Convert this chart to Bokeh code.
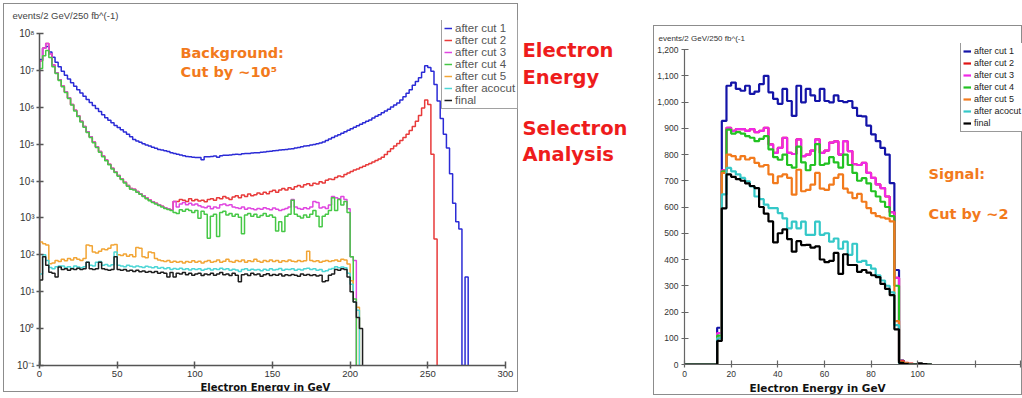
import numpy as np
from bokeh.plotting import figure
from bokeh.models import (Label, Legend, LegendItem, FixedTicker, NumeralTickFormatter,
                          Range1d, Spacer, Title)
from bokeh.layouts import row, column
from bokeh.embed import file_html
from bokeh.resources import INLINE

# ---------------------------------------------------------------- data
series_names = ["after cut 1", "after cut 2", "after cut 3", "after cut 4",
                "after cut 5", "after acocut", "final"]

# Background: electron energy, 2 GeV bins from 0 GeV, log10(events); None = empty bin
bg_bin_width = 2.0
bg_cut1_log10 = [
    7.30, 7.60, 7.65, 7.50, 7.36, 7.22, 7.10, 6.98, 6.87, 6.77,
    6.67, 6.57, 6.48, 6.39, 6.30, 6.21, 6.13, 6.05, 5.97, 5.89,
    5.80, 5.72, 5.65, 5.58, 5.51, 5.45, 5.39, 5.33, 5.27, 5.20,
    5.13, 5.09, 5.05, 5.01, 4.98, 4.95, 4.92, 4.89, 4.86, 4.84,
    4.82, 4.80, 4.77, 4.75, 4.73, 4.71, 4.69, 4.67, 4.66, 4.65,
    4.64, 4.64, 4.58, 4.66, 4.66, 4.67, 4.68, 4.65, 4.69, 4.70,
    4.70, 4.71, 4.72, 4.73, 4.72, 4.74, 4.75, 4.75, 4.76, 4.77,
    4.77, 4.78, 4.79, 4.80, 4.81, 4.82, 4.83, 4.84, 4.85, 4.86,
    4.87, 4.88, 4.90, 4.91, 4.93, 4.95, 4.96, 4.98, 4.99, 5.01,
    5.03, 5.06, 5.10, 5.14, 5.18, 5.22, 5.26, 5.30, 5.34, 5.38,
    5.42, 5.46, 5.50, 5.54, 5.58, 5.62, 5.66, 5.71, 5.76, 5.80,
    5.85, 5.90, 5.95, 6.01, 6.06, 6.12, 6.20, 6.29, 6.38, 6.48,
    6.60, 6.70, 6.80, 6.95, 7.13, 7.08, 6.98, 6.62, 6.17, 5.70,
    5.27, 4.90, 4.20, 3.40, 2.90, 2.70, None, 1.40]
bg_cut2_log10 = [
    7.26, 7.60, 7.73, 7.45, 7.15, 6.94, 6.75, 6.58, 6.42, 6.26,
    6.08, 5.92, 5.77, 5.62, 5.48, 5.34, 5.20, 5.06, 4.93, 4.80,
    4.68, 4.57, 4.46, 4.35, 4.25, 4.15, 4.06, 3.97, 3.88, 3.80,
    3.78, 3.72, 3.66, 3.60, 3.54, 3.49, 3.44, 3.40, 3.36, 3.32,
    3.28, 3.25, 3.22, 3.45, 3.45, 3.50, 3.48, 3.45, 3.52, 3.47,
    3.50, 3.46, 3.48, 3.44, 3.50, 3.52, 3.48, 3.55, 3.52, 3.58,
    3.54, 3.50, 3.57, 3.60, 3.55, 3.62, 3.58, 3.65, 3.60, 3.63,
    3.68, 3.64, 3.70, 3.66, 3.72, 3.75, 3.70, 3.76, 3.80, 3.76,
    3.82, 3.78, 3.85, 3.88, 3.84, 3.90, 3.93, 3.88, 3.94, 3.92,
    3.98, 3.95, 4.02, 4.06, 4.04, 4.10, 4.14, 4.12, 4.18, 4.22,
    4.26, 4.30, 4.33, 4.37, 4.40, 4.44, 4.48, 4.52, 4.56, 4.60,
    4.65, 4.72, 4.80, 4.88, 4.95, 5.02, 5.10, 5.18, 5.27, 5.37,
    5.48, 5.62, 5.78, 5.98, 6.20, 6.08, 4.73, 2.43]
bg_cut3_log10 = [
    7.26, 7.60, 7.73, 7.45, 7.15, 6.94, 6.75, 6.58, 6.42, 6.26,
    6.08, 5.92, 5.77, 5.62, 5.48, 5.34, 5.20, 5.06, 4.93, 4.80,
    4.68, 4.57, 4.46, 4.35, 4.25, 4.15, 4.06, 3.97, 3.88, 3.80,
    3.78, 3.72, 3.66, 3.60, 3.54, 3.49, 3.44, 3.40, 3.36, 3.32,
    3.28, 3.25, 3.22, 3.45, 3.30, 3.38, 3.42, 3.36, 3.40, 3.35,
    3.38, 3.33, 3.30, 3.28, 3.32, 3.25, 3.30, 3.27, 3.36, 3.38,
    3.34, 3.36, 3.30, 3.28, 3.26, 3.30, 3.24, 3.27, 3.25, 3.22,
    3.26, 3.24, 3.28, 3.25, 3.22, 3.27, 3.24, 3.20, 3.23, 3.26,
    3.30, 3.50, 3.30, 3.26, 3.24, 3.28, 3.25, 3.30, 3.45, 3.42,
    3.27, 3.30, 3.26, 3.35, 3.58, 3.55, 3.52, 3.58, 3.50, 3.25,
    1.95, 1.85]
bg_cut4_log10 = [
    7.05, 7.40, 7.54, 7.35, 7.10, 6.92, 6.73, 6.56, 6.40, 6.24,
    6.06, 5.90, 5.75, 5.60, 5.46, 5.32, 5.18, 5.04, 4.91, 4.78,
    4.66, 4.55, 4.44, 4.33, 4.23, 4.13, 4.04, 3.95, 3.86, 3.78,
    3.76, 3.70, 3.64, 3.58, 3.52, 3.47, 3.42, 3.38, 3.34, 3.30,
    3.26, 3.23, 3.20, 3.15, 3.12, 3.22, 3.18, 3.24, 3.20, 3.15,
    3.20, 2.99, 3.18, 3.10, 2.45, 3.05, 3.10, 2.50, 3.15, 3.18,
    3.08, 3.12, 3.05, 3.10, 3.02, 2.57, 3.08, 3.12, 3.05, 3.10,
    3.02, 3.07, 3.12, 3.05, 3.08, 3.02, 2.65, 2.90, 2.63, 3.05,
    3.10, 3.48, 3.10, 3.05, 3.00, 3.08, 3.02, 3.10, 3.20, 3.05,
    2.76, 3.05, 3.10, 3.20, 3.55, 3.20, 3.50, 3.35, 3.45, 3.15,
    1.95, 0.80]
bg_cut5_log10 = [
    2.35, 2.30, 2.27, 1.76, 1.78, 1.85, 1.82, 1.88, 1.84, 1.90,
    1.86, 1.92, 1.88, 1.85, 1.90, 2.27, 2.25, 2.08, 2.05, 2.10,
    2.16, 2.14, 2.18, 2.27, 2.28, 2.00, 1.98, 2.02, 1.96, 2.00,
    1.95, 2.20, 2.18, 1.95, 1.92, 2.08, 2.06, 1.90, 1.86, 1.84,
    1.82, 1.85, 1.80, 1.83, 1.80, 1.82, 1.78, 1.82, 1.80, 1.84,
    1.80, 1.83, 1.78, 1.82, 1.85, 1.80, 1.82, 1.86, 1.80, 1.83,
    1.88, 1.82, 1.80, 1.85, 1.82, 1.86, 1.80, 1.84, 1.82, 1.88,
    1.83, 1.80, 1.85, 1.82, 1.86, 1.82, 1.85, 1.80, 1.84, 1.82,
    1.86, 1.83, 1.81, 1.85, 1.82, 1.84, 2.10, 1.85, 1.82, 1.84,
    1.80, 1.83, 1.85, 1.82, 1.84, 1.86, 1.83, 1.88, 1.86, 1.75,
    1.30, 0.72, 0.58]
bg_acocut_log10 = [
    1.48, 2.00, 1.85, 1.66, 1.62, 1.68, 1.70, 1.70, 1.66, 1.68,
    1.64, 1.70, 1.67, 1.65, 1.68, 1.80, 1.72, 1.70, 1.80, 1.82,
    1.72, 1.74, 1.70, 1.73, 2.08, 1.72, 1.70, 1.68, 1.72, 1.69,
    1.67, 1.70, 1.68, 1.66, 1.69, 1.67, 1.65, 1.68, 1.64, 1.66,
    1.62, 1.65, 1.60, 1.63, 1.61, 1.64, 1.60, 1.62, 1.59, 1.62,
    1.60, 1.62, 1.58, 1.61, 1.63, 1.59, 1.62, 1.60, 1.64, 1.60,
    1.62, 1.58, 1.61, 1.59, 1.55, 1.60, 1.62, 1.58, 1.61, 1.59,
    1.60, 1.57, 1.61, 1.58, 1.62, 1.59, 1.60, 1.63, 1.58, 1.61,
    1.60, 1.62, 1.58, 1.61, 1.59, 1.62, 1.64, 1.60, 1.62, 1.58,
    1.60, 1.55, 1.57, 1.61, 1.63, 1.68, 1.65, 1.67, 1.65, 1.50,
    1.20, 0.72, 0.50]
bg_final_log10 = [
    1.32, 1.95, 1.72, 1.53, 1.50, 1.40, 1.67, 1.60, 1.62, 1.58,
    1.62, 1.60, 1.64, 1.60, 1.62, 1.80, 1.62, 1.60, 1.62, 1.80,
    1.62, 1.60, 1.58, 1.60, 1.95, 1.60, 1.58, 1.60, 1.56, 1.58,
    1.55, 1.58, 1.54, 1.56, 1.53, 1.55, 1.52, 1.55, 1.50, 1.53,
    1.50, 1.40, 1.52, 1.40, 1.50, 1.48, 1.52, 1.46, 1.50, 1.45,
    1.48, 1.50, 1.44, 1.48, 1.46, 1.50, 1.45, 1.48, 1.52, 1.46,
    1.48, 1.44, 1.50, 1.45, 1.27, 1.46, 1.48, 1.44, 1.50, 1.46,
    1.48, 1.42, 1.46, 1.49, 1.44, 1.47, 1.45, 1.48, 1.43, 1.46,
    1.44, 1.47, 1.45, 1.42, 1.48, 1.45, 1.47, 1.44, 1.46, 1.43,
    1.45, 1.27, 1.30, 1.45, 1.48, 1.60, 1.58, 1.62, 1.60, 1.40,
    1.00, 0.72, 0.30, 0.00]

bg_y_ticks = [0.1, 1, 10, 100, 1000, 10000, 100000, 1000000, 10000000, 100000000]
bg_y_tick_labels = ["10⁻¹", "10⁰", "10¹", "10²", "10³", "10⁴", "10⁵", "10⁶", "10⁷", "10⁸"]
bg_x_ticks = [0, 50, 100, 150, 200, 250, 300]

# Signal: electron energy, 2 GeV bins from 0 GeV, events
sig_bin_width = 2.0
sig_cut1 = [0, 0, 0, 0, 0, 0, 0, 140, 928, 1062, 1074, 1050, 1043, 1062, 1031, 1040, 1068,
            1100, 1037, 1012, 993, 1050, 1004, 947, 1062, 999, 1050, 1025, 1004, 1050, 1004,
            999, 1025, 1004, 1000, 1004, 978, 947, 945, 910, 877, 851, 825, 800, 691, 360,
            15, 4, 0, 0, 0, 0, 0]
sig_cut2 = [0, 0, 0, 0, 0, 0, 0, 120, 740, 902, 890, 897, 897, 890, 897, 885, 890,
            902, 839, 806, 825, 864, 806, 802, 858, 794, 800, 815, 858, 806, 815,
            845, 850, 800, 851, 813, 763, 760, 768, 730, 711, 686, 672, 640, 580, 330,
            14, 6, 3, 2, 0, 0, 0]
sig_cut3 = [0, 0, 0, 0, 0, 0, 0, 120, 740, 902, 890, 897, 897, 890, 897, 885, 890,
            902, 839, 806, 825, 864, 806, 802, 858, 794, 800, 815, 858, 806, 815,
            845, 850, 800, 851, 813, 763, 760, 768, 730, 711, 686, 672, 640, 580, 330,
            10, 3, 0, 0, 0, 0, 0]
sig_cut4 = [0, 0, 0, 0, 0, 0, 0, 110, 736, 895, 880, 885, 880, 870, 864, 851, 860,
            870, 820, 790, 780, 800, 760, 750, 830, 770, 740, 760, 840, 760, 765,
            790, 770, 750, 800, 760, 730, 700, 710, 690, 660, 640, 620, 600, 565, 300,
            8, 3, 0, 0, 0, 0, 0]
sig_cut5 = [0, 0, 0, 0, 0, 0, 0, 100, 730, 800, 794, 781, 794, 781, 787, 768, 755,
            760, 724, 691, 717, 724, 711, 647, 742, 660, 665, 685, 730, 670, 665,
            685, 711, 724, 670, 655, 634, 650, 620, 596, 577, 565, 560, 556, 545, 165,
            10, 3, 2, 0, 0, 0, 0]
sig_acocut = [0, 0, 0, 0, 0, 0, 0, 100, 648, 749, 736, 724, 711, 698, 679, 640, 630,
              609, 596, 596, 577, 557, 519, 544, 519, 544, 494, 494, 544, 494, 500,
              468, 480, 441, 468, 418, 460, 391, 395, 379, 365, 340, 320, 300, 275, 150,
              5, 2, 0, 0, 0, 0, 0]
sig_final = [0, 0, 0, 0, 0, 0, 0, 90, 595, 724, 715, 706, 700, 690, 680, 672, 600,
             575, 545, 465, 500, 515, 478, 430, 470, 455, 456, 445, 450, 400, 390,
             395, 425, 345, 420, 379, 379, 353, 360, 350, 340, 333, 307, 288, 264, 134,
             6, 2, 0, 0, 4, 2, 0]

sig_x_ticks = [0, 20, 40, 60, 80, 100, 125, 144]
sig_x_tick_labels = ["0", "20", "40", "60", "80", "100", "", ""]
sig_y_ticks = [0, 100, 200, 300, 400, 500, 600, 700, 800, 900, 1000, 1100, 1200]

bg_colors = ["#2b2bd6", "#e83a3a", "#e046e0", "#46c846", "#f2a535", "#4cd6d6", "#1e1e1e"]
sig_colors = ["#1414a8", "#e01414", "#f028e6", "#22c222", "#f27a1c", "#34c8c8", "#000000"]

TICK_FONT = "Liberation Sans"
BOLD_FONT = "DejaVu Sans"
ORANGE = "#f27a1c"
BORDER = {"border": "1px solid #8c8c8c", "box-sizing": "border-box"}


def outline(counts, width, floor):
    n = len(counts)
    edges = [i * width for i in range(n + 1)]
    xs = [edges[0]] + edges
    ys = [floor] + [c if c > floor else floor for c in counts] + [floor]
    return xs, ys


def style_axis(ax, font_size, color="#555555", lw=1.5):
    ax.axis_line_color = color
    ax.axis_line_width = lw
    ax.major_tick_line_color = color
    ax.major_tick_line_width = lw
    ax.major_tick_in = 4
    ax.major_tick_out = 3
    ax.minor_tick_line_color = None
    ax.major_label_text_font = TICK_FONT
    ax.major_label_text_font_size = font_size
    ax.major_label_text_color = "#333333"


# ---------------------------------------------------------------- left: background
# frame: x 39..517 px (0..300 GeV spans 39..503), y 20..363 px (1e8 at 33 px)
BG_FLOOR = bg_y_ticks[0]
bg_px_per_gev = 464 / 300.0
bg_px_per_dec = 330 / 9.0
p1 = figure(width=515, height=389, output_backend="svg", toolbar_location=None,
            x_range=Range1d(0, 478 / bg_px_per_gev),
            y_range=Range1d(BG_FLOOR, 10 ** (8 + 13 / bg_px_per_dec)),
            y_axis_type="log", min_border_left=35, min_border_right=0,
            min_border_top=16, min_border_bottom=28, styles=BORDER,
            title=Title(text="events/2 GeV/250 fb^(-1)", align="left", offset=-27, standoff=0,
                        text_font=TICK_FONT, text_font_size="9.5px",
                        text_font_style="normal", text_color="#444444"))
p1.grid.visible = False
p1.outline_line_color = None
p1.xaxis.ticker = FixedTicker(ticks=bg_x_ticks, minor_ticks=[])
p1.xaxis.bounds = (bg_x_ticks[0], bg_x_ticks[-1])
p1.yaxis.ticker = FixedTicker(ticks=bg_y_ticks, minor_ticks=[])
p1.yaxis.bounds = (bg_y_ticks[0], bg_y_ticks[-1])
p1.yaxis.major_label_overrides = {t: lab for t, lab in zip(bg_y_ticks, bg_y_tick_labels)}
style_axis(p1.xaxis[0], "9.5px")
style_axis(p1.yaxis[0], "10px")
p1.xaxis.major_label_standoff = 2
p1.yaxis.major_label_standoff = 2
p1.add_layout(Title(text="Electron Energy in GeV", align="left", offset=161, standoff=0,
                    text_font=BOLD_FONT, text_font_size="10px", text_font_style="bold",
                    text_color="#111111"), "below")

bg_series = [bg_cut1_log10, bg_cut2_log10, bg_cut3_log10, bg_cut4_log10,
             bg_cut5_log10, bg_acocut_log10, bg_final_log10]
items1 = []
for name, logs, col in zip(series_names, bg_series, bg_colors):
    counts = [10 ** v if v is not None else 0.0 for v in logs]
    xs, ys = outline(counts, bg_bin_width, BG_FLOOR)
    r = p1.step(xs, ys, mode="after", line_color=col, line_width=1.5)
    items1.append(LegendItem(label=name, renderers=[r]))

leg1 = Legend(items=items1, location=(402, 256), border_line_color="#444444",
              border_line_width=1, background_fill_color="white", background_fill_alpha=1,
              label_text_font=TICK_FONT, label_text_font_size="11.5px",
              label_text_color="#555555", glyph_width=8, glyph_height=12, label_height=12,
              spacing=0, padding=2, margin=0, label_standoff=3)
p1.add_layout(leg1)

p1.add_layout(Label(x=141, y=313, x_units="screen", y_units="screen",
                    text="Background:", text_font=BOLD_FONT, text_font_style="bold",
                    text_font_size="14.5px", text_color=ORANGE, text_baseline="middle"))
p1.add_layout(Label(x=141, y=294, x_units="screen", y_units="screen",
                    text="Cut by ~10⁵", text_font=BOLD_FONT, text_font_style="bold",
                    text_font_size="14.5px", text_color=ORANGE, text_baseline="middle"))

# ---------------------------------------------------------------- middle: heading text
MID_H = 389
pm = figure(width=135, height=MID_H, output_backend="svg", toolbar_location=None,
            x_axis_location=None, y_axis_location=None, min_border=0, title=None,
            x_range=Range1d(0, 135), y_range=Range1d(0, MID_H))
pm.grid.visible = False
pm.outline_line_color = None
for txt, cy in [("Electron", 50), ("Energy", 76.5), ("Selectron", 128.3), ("Analysis", 153.7)]:
    pm.add_layout(Label(x=4, y=MID_H + 3 - cy, text=txt,
                        text_font=BOLD_FONT, text_font_style="bold", text_font_size="19.5px",
                        text_color="#ee1c1c", text_baseline="middle"))

# ---------------------------------------------------------------- right: signal
# frame: x 683..1021 px, y 43..362 px (1200 at 49 px)
sig_px_per_gev = 2.325
sig_px_per_evt = 313 / 1200.0
p2 = figure(width=369, height=370, output_backend="svg", toolbar_location=None,
            x_range=Range1d(0, 338 / sig_px_per_gev),
            y_range=Range1d(0, sig_y_ticks[-1] + 6 / sig_px_per_evt),
            min_border_left=29, min_border_right=0, min_border_top=17, min_border_bottom=32,
            styles=BORDER,
            title=Title(text="events/2 GeV/250 fb^(-1", align="left", offset=-26, standoff=2,
                        text_font=TICK_FONT, text_font_size="8px",
                        text_font_style="normal", text_color="#333333"))
p2.grid.visible = False
p2.outline_line_color = None
p2.xaxis.ticker = FixedTicker(ticks=sig_x_ticks, minor_ticks=[])
p2.xaxis.major_label_overrides = {t: lab for t, lab in zip(sig_x_ticks, sig_x_tick_labels)}
p2.yaxis.ticker = FixedTicker(ticks=sig_y_ticks, minor_ticks=[])
p2.yaxis.bounds = (sig_y_ticks[0], sig_y_ticks[-1])
p2.yaxis.formatter = NumeralTickFormatter(format="0,0")
style_axis(p2.xaxis[0], "8.5px", color="#666666", lw=1.2)
style_axis(p2.yaxis[0], "8.5px", color="#666666", lw=1.2)
p2.xaxis.major_label_standoff = 3
p2.yaxis.major_label_standoff = 3
p2.add_layout(Title(text="Electron Energy in GeV", align="left", offset=65, standoff=0,
                    text_font=BOLD_FONT, text_font_size="10.5px", text_font_style="bold",
                    text_color="#111111"), "below")

sig_series = [sig_cut1, sig_cut2, sig_cut3, sig_cut4, sig_cut5, sig_acocut, sig_final]
items2 = []
for name, counts, col in zip(series_names, sig_series, sig_colors):
    xs, ys = outline(counts, sig_bin_width, 0)
    r = p2.step(xs, ys, mode="after", line_color=col, line_width=2.2)
    items2.append(LegendItem(label=name, renderers=[r]))

leg2 = Legend(items=items2, location=(276, 232), border_line_color="#333333",
              border_line_width=1, background_fill_color="white", background_fill_alpha=1,
              label_text_font=TICK_FONT, label_text_font_size="9px",
              label_text_color="#222222", glyph_width=8, glyph_height=12, label_height=12,
              spacing=0, padding=2, margin=0, label_standoff=3)
p2.add_layout(leg2)

p2.add_layout(Label(x=244, y=191, x_units="screen", y_units="screen",
                    text="Signal:", text_font=BOLD_FONT, text_font_style="bold",
                    text_font_size="14.5px", text_color=ORANGE, text_baseline="middle"))
p2.add_layout(Label(x=244, y=151, x_units="screen", y_units="screen",
                    text="Cut by ~2", text_font=BOLD_FONT, text_font_style="bold",
                    text_font_size="14.5px", text_color=ORANGE, text_baseline="middle"))

layout = row(Spacer(width=3, height=392),
             column(Spacer(width=515, height=3), p1),
             column(Spacer(width=135, height=3), pm),
             column(Spacer(width=369, height=25), p2))
open("out.html", "w").write(file_html(layout, INLINE))
